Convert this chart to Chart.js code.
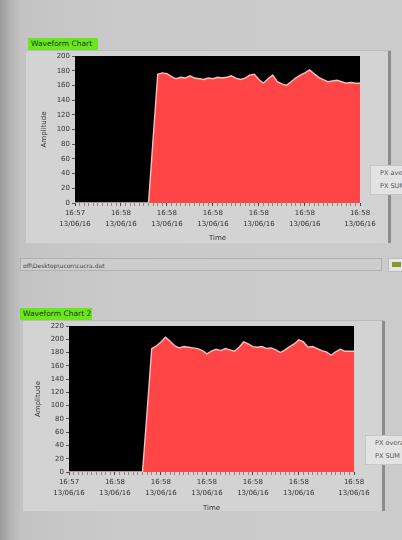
<!DOCTYPE html>
<html>
<head>
<meta charset="utf-8">
<script src="https://cdn.jsdelivr.net/npm/chart.js@4"></script>
<style>
  body {
    margin: 0; width: 402px; height: 540px; overflow: hidden; position: relative;
    background: linear-gradient(90deg, #9a9a9a 0px, #b2b2b2 10px, #c4c4c4 22px, #cacaca 120px, #cbcbcb 402px);
    font-family: "DejaVu Sans", sans-serif;
  }
  .panel { position: absolute; background: #d3d3d3; border-top: 1px solid #bcbcbc; border-left: 1px solid #c2c2c2; }
  .panel .edge { position: absolute; right: 0; top: 0; bottom: 0; width: 3px; background: #8c8c8c; }
  .tag {
    position: absolute; background: #6ae61e; color: #1d3a0c; font-size: 7.5px; line-height: 12px;
    padding: 0 3px; white-space: nowrap; overflow: hidden;
  }
  canvas { position: absolute; }
  .plotLegend {
    position: absolute; background: #e3e3e3; border: 1px solid #c6c6c6; font-size: 6.5px; color: #555;
    line-height: 13px; padding: 1px 0 0 9px; white-space: nowrap; overflow: hidden;
  }
  .path {
    position: absolute; left: 20px; top: 258px; width: 362px; height: 13px; background: #cdcdcd;
    border: 1px solid #b0b0b0; font-size: 6px; line-height: 13px; color: #444; padding-left: 2px; box-sizing: border-box;
  }
  .btn { position: absolute; left: 388px; top: 258px; width: 16px; height: 12px; background: #e6e6e6; border: 1px solid #bbb; }
  .btn i { position: absolute; left: 3px; top: 3px; width: 9px; height: 5px; background: #8a9a2a; }
</style>
</head>
<body>
<div class="panel" style="left:25px;top:50px;width:365px;height:192px"><div class="edge"></div></div>
<div class="tag" style="left:28px;top:38px;width:64px">Waveform Chart</div>
<canvas id="chart1" width="362" height="194" style="left:25px;top:48px"></canvas>
<div class="plotLegend" style="left:370px;top:165px;width:40px;height:27px">PX average<br>PX SUM</div>

<div class="path">off\Desktop\ucon\cucra.dat</div>
<div class="btn"><i></i></div>

<div class="panel" style="left:22px;top:320px;width:362px;height:190px"><div class="edge"></div></div>
<div class="tag" style="left:20px;top:308px;width:66px">Waveform Chart 2</div>
<canvas id="chart2" width="362" height="194" style="left:22px;top:318px"></canvas>
<div class="plotLegend" style="left:365px;top:435px;width:45px;height:27px">PX overall<br>PX SUM</div>

<script>
// time axis labels (one per major tick)
const timeLabels = ['16:57', '16:58', '16:58', '16:58', '16:58', '16:58', '16:58'];
const dateLabel = '13/06/16';
const majorTicks = [0, 10, 20, 30, 40, 50, 62];
const lastSample = 62;

// amplitude samples, one per second
const amplitude1 = [
  0, 0, 0, 0, 0, 0, 0, 0, 0, 0, 0, 0, 0, 0, 0, 0, 0,
  88, 175, 177, 176, 172, 169, 171, 170, 173, 170, 169, 168, 170, 169, 171, 170, 171,
  173, 170, 168, 170, 174, 175, 168, 163, 169, 174, 165, 162, 160, 165, 170, 174,
  177, 181, 176, 171, 168, 165, 166, 167, 165, 163, 164, 163, 163
];
const amplitude2 = [
  0, 0, 0, 0, 0, 0, 0, 0, 0, 0, 0, 0, 0, 0, 0, 0, 0,
  92, 186, 190, 196, 203, 197, 190, 187, 189, 188, 187, 186, 183, 178, 182, 185, 183,
  186, 184, 182, 188, 196, 193, 189, 188, 189, 186, 187, 184, 180, 184, 189, 193,
  199, 196, 188, 189, 186, 183, 181, 176, 181, 185, 182, 182, 182
];
const yMax1 = 200;
const yMax2 = 220;
const yStep = 20;

const blackPlot = {
  id: 'blackPlot',
  beforeDraw(chart) {
    const { ctx, chartArea: a } = chart;
    ctx.save();
    ctx.fillStyle = '#000';
    ctx.fillRect(a.left, a.top, a.width, a.height);
    ctx.restore();
  }
};

const tickFont = { family: 'DejaVu Sans', size: 7 };
const xTickFont = { family: 'DejaVu Sans', size: 7, lineHeight: 1.55 };

function makeChart(id, values, yMax, o) {
  return new Chart(document.getElementById(id), {
    type: 'line',
    data: {
      datasets: [{
        data: values.map((v, i) => ({ x: i, y: v })),
        fill: 'origin',
        backgroundColor: '#ff4545',
        borderColor: '#eec3bf',
        borderWidth: 1.4,
        pointRadius: 0,
        tension: 0
      }]
    },
    options: {
      responsive: false,
      animation: false,
      layout: { padding: { top: 8, right: o.right, bottom: 0, left: 0 } },
      plugins: { legend: { display: false }, tooltip: { enabled: false } },
      scales: {
        x: {
          type: 'linear', min: 0, max: lastSample,
          afterBuildTicks: (s) => {
            s.ticks = [];
            for (let t = 0; t <= lastSample; t++) s.ticks.push({ value: t });
          },
          afterFit: (s) => { s.height = o.xh; },
          ticks: {
            autoSkip: false, maxRotation: 0, minRotation: 0, padding: 2,
            font: xTickFont, color: '#333',
            callback: (v) => {
              const k = majorTicks.indexOf(v);
              return k < 0 ? '' : [timeLabels[k], dateLabel];
            }
          },
          grid: {
            drawOnChartArea: false, tickLength: 3,
            color: (c) => (c.tick && majorTicks.includes(c.tick.value) ? '#444' : '#8a8a8a')
          },
          border: { display: false },
          title: { display: true, text: 'Time', font: tickFont, color: '#333', padding: { top: 8, bottom: 0 } }
        },
        y: {
          min: 0, max: yMax,
          afterFit: (s) => { s.width = o.yw; },
          ticks: { stepSize: yStep, font: tickFont, color: '#333', padding: 2 },
          grid: { drawOnChartArea: false, tickLength: 3, color: '#555' },
          border: { display: false },
          title: { display: true, text: 'Amplitude', font: tickFont, color: '#333', padding: { top: o.tp, bottom: 0 } }
        }
      }
    },
    plugins: [blackPlot]
  });
}

makeChart('chart1', amplitude1, yMax1, { right: 27, yw: 50, xh: 39, tp: 15 });
makeChart('chart2', amplitude2, yMax2, { right: 30, yw: 47, xh: 40, tp: 12 });
</script>
</body>
</html>
